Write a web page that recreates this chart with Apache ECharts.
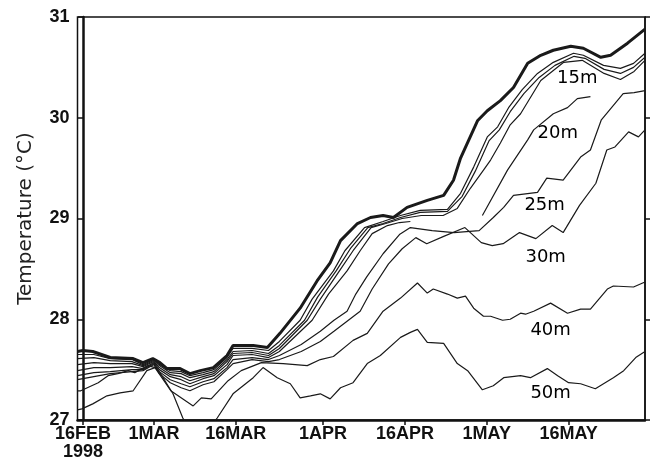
<!DOCTYPE html>
<html><head><meta charset="utf-8">
<script src="https://cdn.jsdelivr.net/npm/echarts@6/dist/echarts.min.js"></script>
<style>html,body{margin:0;padding:0;background:#fff}#c{width:652px;height:461px}</style>
</head><body><div id="c"></div>
<script>
// x = days after 16 Feb 1998
const tickDays = [0, 13, 28, 44, 59, 74, 89];
const tickLabels = ['16FEB\n1998', '1MAR', '16MAR', '1APR', '16APR', '1MAY', '16MAY'];

const d0m = [-1,0,1.8,5,9.2,11,12.8,14.1,15.4,17.8,19.6,21.5,23.9,26.4,27.5,31.2,33.8,36.1,39.8,42.9,45.3,47.2,50.3,52.7,55,56.9,59.4,63.1,66.1,67.9,69.2,72.3,74.1,76.5,78.9,81.5,83.9,86.2,89.4,91.7,94.9,96.7,99.8,103];
const t0m = [27.68,27.69,27.68,27.62,27.61,27.57,27.61,27.57,27.51,27.51,27.46,27.49,27.52,27.64,27.74,27.74,27.72,27.86,28.11,28.38,28.56,28.78,28.95,29.01,29.03,29.01,29.11,29.18,29.23,29.38,29.6,29.97,30.07,30.17,30.3,30.54,30.62,30.67,30.71,30.69,30.6,30.62,30.74,30.88];

const dLeft = [-1,2,5,9,11,13,14,16,18,19.6,22,24,26.4,27.5,31,34];

const d5m = dLeft.concat([36,39.8,42,45.9,48,51.6,55,58.2,61.8,66.8,69.2,71.6,74.1,76,78,80.5,83.3,86.2,89.9,91.7,95.4,98.5,100.9,103]);
const t5m = [27.65,27.65,27.61,27.6,27.55,27.6,27.55,27.49,27.48,27.44,27.47,27.5,27.62,27.71,27.71,27.69,
  27.78,27.99,28.2,28.48,28.68,28.91,28.97,29.03,29.08,29.09,29.25,29.51,29.81,29.91,30.1,30.28,30.44,30.55,30.64,30.62,30.52,30.49,30.54,30.64];

const d10m = dLeft.concat([36,40.6,43,46.4,49,52.2,55,58.2,61.8,66.8,69.5,71.9,74.4,76.3,78.3,80.8,83.6,86.5,90,92,95.5,98.5,100.9,103]);
const t10m = [27.61,27.62,27.59,27.58,27.54,27.59,27.54,27.47,27.46,27.42,27.45,27.48,27.6,27.68,27.69,27.66,
  27.74,27.99,28.22,28.48,28.7,28.91,28.95,29.01,29.06,29.07,29.22,29.47,29.77,29.88,30.06,30.24,30.4,30.52,30.61,30.59,30.48,30.44,30.5,30.6];

const d15m = dLeft.concat([36,41.1,43.5,47,49.5,52.8,55.5,58.5,62,66,68.6,71,73.4,74.7,76.5,78.3,80.2,83.9,88.1,91.5,95.5,98.5,101,103]);
const t15m = [27.55,27.57,27.56,27.56,27.53,27.58,27.52,27.45,27.43,27.39,27.43,27.46,27.58,27.66,27.67,27.64,
  27.71,27.99,28.2,28.48,28.68,28.91,28.95,29.0,29.03,29.03,29.1,29.3,29.48,29.58,29.75,29.93,30.04,30.37,30.55,30.57,30.44,30.38,30.46,30.57];

const d20m = dLeft.concat([36,42,45,48.4,50.8,53,55.8,58,60,66,73.2,77.8,81.5,82.6,86.2,88.8,90.6,93]);
const t20m = [27.49,27.52,27.52,27.53,27.51,27.57,27.5,27.43,27.4,27.36,27.41,27.44,27.55,27.64,27.65,27.62,
  27.68,27.99,28.25,28.48,28.68,28.85,28.93,28.96,28.97,null,29.03,29.48,29.78,29.88,30.04,30.1,30.19,30.21];

const d25m = dLeft.concat([36,40,43.5,46,48.4,50,52,55,58,60,64,68,72.6,75.2,77.1,78.9,83.3,85,88,91.2,93,95,99,101,103]);
const t25m = [27.44,27.47,27.48,27.5,27.5,27.56,27.48,27.4,27.36,27.33,27.38,27.41,27.52,27.6,27.62,27.6,
  27.64,27.75,27.88,27.99,28.08,28.25,28.42,28.65,28.84,28.91,28.88,28.86,28.88,29.01,29.11,29.23,29.26,29.4,29.38,29.61,29.68,29.98,30.24,30.25,30.27];

const d30m = dLeft.concat([36,40,43.5,46,48.4,50.8,53,56,58.5,61,63,66,70,73,75,77,80,83,86,88,91,94,96,97.5,100,101.8,103]);
const t30m = [27.4,27.43,27.46,27.48,27.49,27.55,27.46,27.37,27.32,27.29,27.35,27.38,27.5,27.56,27.6,27.58,
  27.6,27.68,27.78,27.88,27.98,28.08,28.3,28.55,28.7,28.81,28.75,28.82,28.91,28.76,28.73,28.75,28.86,28.8,28.93,28.86,29.13,29.35,29.68,29.71,29.86,29.81,29.88];

const d40m = [-1,-0.4,2.8,4.6,6.4,8.3,9.5,11.9,13.2,16.1,20.2,21.7,23.5,26.6,29,32.7,36.7,41.1,43.5,45.9,49.5,52.1,55,58.2,61.3,63.1,64.2,66.8,68.6,70.1,71.6,73.4,74.7,76.9,78.3,80.2,81.1,82.6,85.7,88.8,91.2,93,96.1,97.2,100.9,103];
const t40m = [27.29,27.29,27.37,27.44,27.46,27.49,27.47,27.54,27.52,27.29,27.14,27.22,27.21,27.39,27.49,27.57,27.56,27.54,27.6,27.63,27.79,27.86,28.08,28.21,28.36,28.26,28.3,28.25,28.21,28.23,28.11,28.03,28.03,27.99,28.0,28.06,28.05,28.08,28.16,28.06,28.1,28.1,28.3,28.33,28.32,28.37];

const d50m = [-1,-0.2,1.8,4.4,6.8,9.2,11.7,13.2,14.1,16.5,18.3,21,24.6,27.5,31.2,33,35.6,38,39.8,41.7,43.5,45.3,47.2,49.5,52.1,54.5,58.2,60,61.3,63.1,66.1,68.6,70.5,73.2,75.2,77.1,80.2,82,85.1,87,89,91.2,93.9,97.2,99.1,101.3,103];
const t50m = [27.1,27.11,27.16,27.24,27.27,27.29,27.49,27.52,27.47,27.26,27.02,26.75,27.02,27.26,27.42,27.52,27.42,27.36,27.22,27.24,27.26,27.21,27.32,27.37,27.56,27.64,27.82,27.87,27.9,27.77,27.76,27.56,27.49,27.3,27.34,27.42,27.44,27.42,27.51,27.44,27.37,27.36,27.31,27.42,27.49,27.62,27.68];

const depthLabels = ['15m', '20m', '25m', '30m', '40m', '50m'];
const labelDays = [90.6, 87, 84.6, 84.8, 85.7, 85.7];
const labelTemps = [30.39, 29.85, 29.13, 28.61, 27.89, 27.26];

function zip(d, t) { return d.map((x, i) => [x, t[i]]); }

const lines = [
  {name: '0m', d: d0m, t: t0m, w: 3},
  {name: '5m', d: d5m, t: t5m, w: 1.2},
  {name: '10m', d: d10m, t: t10m, w: 1.2},
  {name: '15m', d: d15m, t: t15m, w: 1.2},
  {name: '20m', d: d20m, t: t20m, w: 1.2},
  {name: '25m', d: d25m, t: t25m, w: 1.2},
  {name: '30m', d: d30m, t: t30m, w: 1.2},
  {name: '40m', d: d40m, t: t40m, w: 1.2},
  {name: '50m', d: d50m, t: t50m, w: 1.2}
];

const series = lines.map(l => ({
  type: 'line', name: l.name, data: zip(l.d, l.t), showSymbol: false, symbol: 'none',
  connectNulls: false, clip: true, silent: true,
  lineStyle: {color: '#1a1a1a', width: l.w}, z: l.w > 2 ? 5 : 3
}));

series.push({
  type: 'scatter', symbolSize: 1, silent: true, itemStyle: {opacity: 0},
  data: labelDays.map((d, i) => ({value: [d, labelTemps[i]], name: depthLabels[i]})),
  label: {show: true, position: 'inside', formatter: p => p.name,
    fontFamily: 'DejaVu Sans', fontSize: 18, color: '#000', textBorderWidth: 0, opacity: 1}
});

const tickFont = {fontFamily: 'Liberation Sans Narrow, Liberation Sans, Arial', fontWeight: 'bold', fontSize: 18, color: '#111'};

const chart = echarts.init(document.getElementById('c'), null, {renderer: 'canvas'});
chart.setOption({
  animation: false,
  backgroundColor: '#fff',
  grid: {left: 77.5, right: 7, top: 17, bottom: 41, show: true, borderColor: '#111', borderWidth: 1.5, backgroundColor: 'transparent'},
  xAxis: {
    type: 'value', min: -1, max: 103,
    splitLine: {show: false},
    axisLine: {show: true, onZero: false, lineStyle: {color: '#111', width: 2.5}},
    axisTick: {show: true, inside: false, length: 5, customValues: tickDays, lineStyle: {color: '#111', width: 1.5}},
    axisLabel: Object.assign({customValues: tickDays, margin: 5, lineHeight: 18,
      formatter: v => { const i = tickDays.indexOf(v); return i >= 0 ? tickLabels[i] : ''; }}, tickFont)
  },
  yAxis: [{
    type: 'value', min: 27, max: 31, interval: 1,
    splitLine: {show: false},
    axisLine: {show: true, lineStyle: {color: '#111', width: 2.5}},
    axisTick: {show: true, inside: false, length: 5, lineStyle: {color: '#111', width: 1.5}},
    axisLabel: Object.assign({margin: 8}, tickFont),
    name: 'Temperature (°C)', nameLocation: 'middle', nameRotate: 90, nameGap: 42,
    nameTextStyle: {fontFamily: 'DejaVu Sans', fontSize: 20, color: '#222'}
  }, {
    type: 'value', min: 27, max: 31, interval: 1, position: 'right',
    splitLine: {show: false},
    axisLine: {show: true, lineStyle: {color: '#111', width: 1.5}},
    axisTick: {show: true, inside: false, length: 5, lineStyle: {color: '#111', width: 1.5}},
    axisLabel: {show: false}
  }],
  series: series
});
</script>
</body></html>
